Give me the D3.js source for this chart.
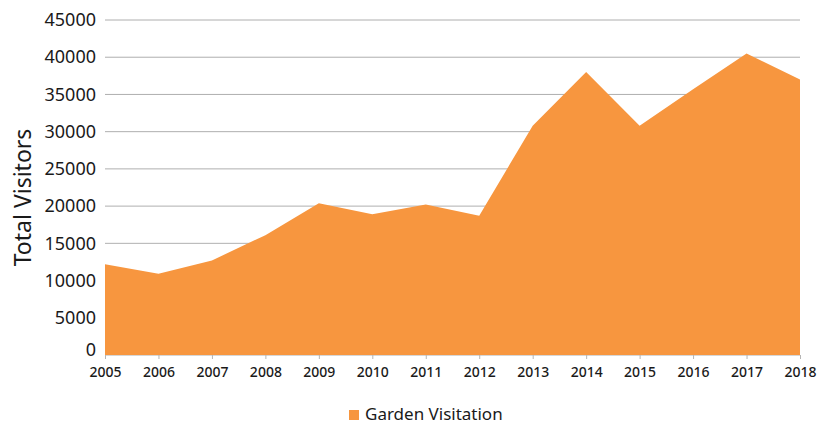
<!DOCTYPE html>
<html>
<head>
<meta charset="utf-8">
<script src="https://cdn.jsdelivr.net/npm/d3@7"></script>
<style>
  html, body { margin: 0; padding: 0; background: #fff; }
  svg { display: block; }
  text { font-family: "Noto Sans", "Open Sans", sans-serif; fill: #1a1a1a; }
</style>
</head>
<body>
<svg id="chart" width="823" height="425"></svg>
<script>
// Annual garden visitation
const years = [2005, 2006, 2007, 2008, 2009, 2010, 2011, 2012, 2013, 2014, 2015, 2016, 2017, 2018];
const visitors = [12200, 10900, 12700, 16100, 20400, 18900, 20200, 18700, 30800, 38000, 30800, 35700, 40500, 37000];
const yTicks = [0, 5000, 10000, 15000, 20000, 25000, 30000, 35000, 40000, 45000];
const seriesName = "Garden Visitation";
const yTitle = "Total Visitors";

const svg = d3.select("#chart");
const margin = { left: 105, right: 23, top: 20, bottom: 70 };
const W = 823, H = 425;

const x = d3.scaleLinear()
  .domain(d3.extent(years))
  .range([margin.left, W - margin.right]);
const y = d3.scaleLinear()
  .domain([0, 45000])
  .range([H - margin.bottom, margin.top]);

// Horizontal gridlines
svg.append("g")
  .selectAll("line")
  .data(yTicks)
  .join("line")
  .attr("x1", x.range()[0])
  .attr("x2", x.range()[1])
  .attr("y1", d => y(d))
  .attr("y2", d => y(d))
  .attr("stroke", "#9a9a9a")
  .attr("stroke-width", 0.8);

// Filled area
const area = d3.area()
  .x((d, i) => x(years[i]))
  .y0(y(0))
  .y1(d => y(d));
svg.append("path")
  .datum(visitors)
  .attr("d", area)
  .attr("fill", "#F7963F");

// Y axis labels
const yAxis = d3.axisLeft(y).tickValues(yTicks).tickSize(0).tickPadding(9)
  .tickFormat(d3.format("d"));
svg.append("g")
  .attr("transform", `translate(${margin.left},0)`)
  .call(yAxis)
  .call(g => g.select(".domain").remove())
  .call(g => g.selectAll("text")
    .style("font-family", '"Noto Sans", sans-serif')
    .style("font-size", "18px")
    .attr("fill", "#1a1a1a"))
  .call(g => g.selectAll(".tick").filter(d => d === 0).select("text").attr("dy", "0.05em"));

// X axis ticks and labels
const xAxis = d3.axisBottom(x).tickValues(years).tickSize(4).tickPadding(8)
  .tickFormat(d3.format("d"));
svg.append("g")
  .attr("transform", `translate(0,${y(0)})`)
  .call(xAxis)
  .call(g => g.select(".domain").remove())
  .call(g => g.selectAll(".tick line").attr("stroke", "#b5b5b5"))
  .call(g => g.selectAll("text")
    .style("font-family", '"Noto Sans", sans-serif')
    .style("font-size", "14px")
    .style("font-weight", "500")
    .attr("fill", "#1a1a1a"));

// Y axis title
svg.append("text")
  .attr("transform", `translate(31,${(y(0) + y(45000)) / 2 + 10}) rotate(-90)`)
  .attr("text-anchor", "middle")
  .style("font-size", "23px")
  .text(yTitle);

// Legend
const legend = svg.append("g").attr("transform", "translate(349,410)");
legend.append("rect")
  .attr("width", 10).attr("height", 10)
  .attr("fill", "#F7963F");
legend.append("text")
  .attr("x", 16).attr("y", 10)
  .style("font-size", "17px")
  .text(seriesName);
</script>
</body>
</html>
